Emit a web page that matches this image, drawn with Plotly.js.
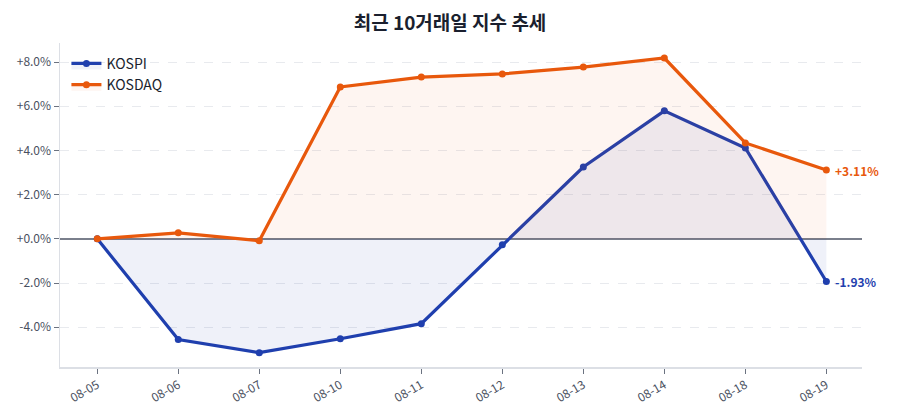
<!DOCTYPE html>
<html>
<head>
<meta charset="utf-8">
<script src="https://cdn.plot.ly/plotly-3.0.1.min.js"></script>
<style>
  html, body { margin: 0; padding: 0; background: #fff; }
  #chart { width: 900px; height: 420px; }
</style>
</head>
<body>
<div id="chart"></div>
<script>
// 최근 10거래일 누적 등락률 (%)
const dates = ['08-05', '08-06', '08-07', '08-10', '08-11', '08-12', '08-13', '08-14', '08-18', '08-19'];
const kospi = [0, -4.56, -5.15, -4.52, -3.84, -0.27, 3.25, 5.79, 4.11, -1.93];
const kosdaq = [0, 0.27, -0.09, 6.87, 7.32, 7.46, 7.77, 8.18, 4.34, 3.11];
const yTicks = [-4, -2, 0, 2, 4, 6, 8];

const FONT = 'Noto Sans CJK KR, Noto Sans, sans-serif';
const BLUE = '#1f3fae';
const ORANGE = '#e8580c';

function fmt(v) {
    return (v >= 0 ? '+' : '') + v.toFixed(2) + '%';
}

const traces = [
    {
        x: dates, y: kospi, name: 'KOSPI',
        type: 'scatter', mode: 'lines+markers',
        fill: 'tozeroy', fillcolor: 'rgba(31,63,174,0.07)',
        line: { color: BLUE, width: 3.2 },
        marker: { color: BLUE, size: 7 }
    },
    {
        x: dates, y: kosdaq, name: 'KOSDAQ',
        type: 'scatter', mode: 'lines+markers',
        fill: 'tozeroy', fillcolor: 'rgba(232,88,12,0.06)',
        line: { color: ORANGE, width: 3.2 },
        marker: { color: ORANGE, size: 7 }
    }
];

const last = dates.length - 1;
const annotations = [
    { series: kospi, color: BLUE },
    { series: kosdaq, color: ORANGE }
].map(a => ({
    x: dates[last], y: a.series[last], xref: 'x', yref: 'y',
    text: '<b>' + fmt(a.series[last]) + '</b>',
    showarrow: false, xanchor: 'left', xshift: 7,
    font: { family: FONT, size: 12, color: a.color }
}));

const layout = {
    width: 900, height: 420,
    margin: { l: 60, r: 38, t: 43, b: 53 },
    paper_bgcolor: '#fff', plot_bgcolor: '#fff',
    font: { family: FONT, color: '#4a5060' },
    title: {
        text: '<b>최근 10거래일 지수 추세</b>',
        x: 0.5, xanchor: 'center', y: 0.945, yanchor: 'middle',
        font: { family: FONT, size: 19, color: '#1a1f2e' }
    },
    showlegend: true,
    legend: {
        x: 0.008, y: 0.985, xanchor: 'left', yanchor: 'top',
        bgcolor: 'rgba(255,255,255,0)',
        tracegroupgap: 0,
        font: { family: FONT, size: 14, color: '#1a1f2e' }
    },
    xaxis: {
        type: 'category',
        range: [-0.46, 9.44],
        tickangle: -30,
        ticks: 'outside', ticklen: 5, tickcolor: '#6b7280',
        tickfont: { family: FONT, size: 12, color: '#4a5060' },
        showgrid: false,
        showline: true, linecolor: '#dcdfe5', linewidth: 1.5,
        zeroline: false
    },
    yaxis: {
        range: [-5.8, 8.86],
        tickvals: yTicks,
        ticktext: yTicks.map(v => (v >= 0 ? '+' : '') + v.toFixed(1) + '%'),
        ticks: 'outside', ticklen: 5, tickcolor: '#6b7280',
        tickfont: { family: FONT, size: 12, color: '#4a5060' },
        showgrid: true, gridcolor: '#e8eaee', griddash: 'dash', gridwidth: 1,
        showline: true, linecolor: '#dcdfe5', linewidth: 1.5,
        zeroline: true, zerolinecolor: '#7a7f8c', zerolinewidth: 1.5
    },
    annotations: annotations
};

Plotly.newPlot('chart', traces, layout, { displayModeBar: false, staticPlot: true });
</script>
</body>
</html>
